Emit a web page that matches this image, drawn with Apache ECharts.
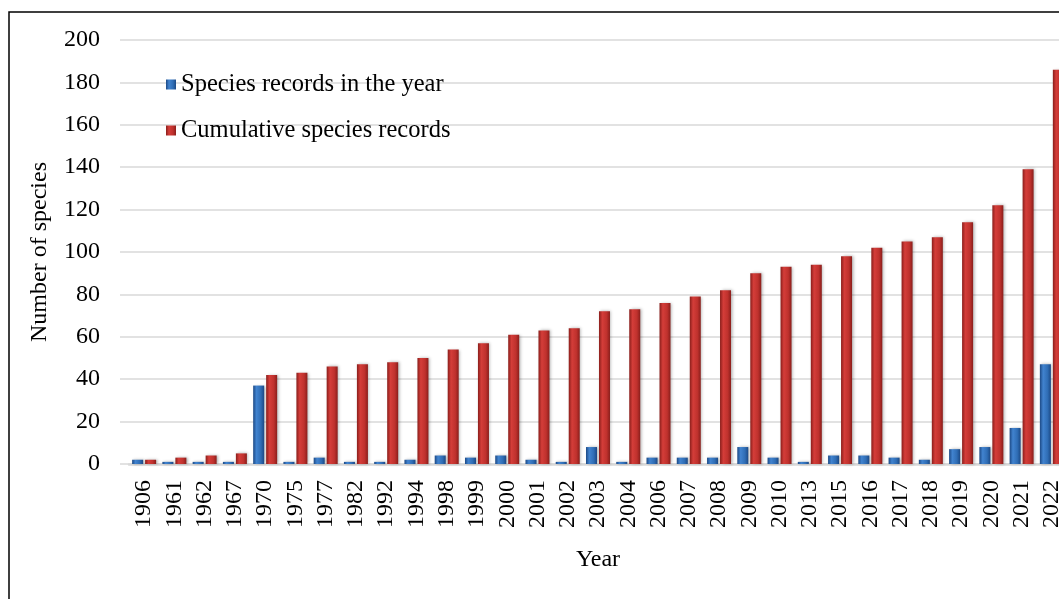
<!DOCTYPE html>
<html>
<head>
<meta charset="utf-8">
<script src="https://cdn.jsdelivr.net/npm/echarts@6/dist/echarts.min.js"></script>
<style>
  html, body { margin: 0; padding: 0; background: #fff; }
  #chart { width: 1059px; height: 599px; }
</style>
</head>
<body>
<div id="chart"></div>
<script>
const years = ['1906', '1961', '1962', '1967', '1970', '1975', '1977', '1982', '1992', '1994',
  '1998', '1999', '2000', '2001', '2002', '2003', '2004', '2006', '2007', '2008',
  '2009', '2010', '2013', '2015', '2016', '2017', '2018', '2019', '2020', '2021', '2022']
const yearRecords = [2, 1, 1, 1, 37, 1, 3, 1, 1, 2,
  4, 3, 4, 2, 1, 8, 1, 3, 3, 3,
  8, 3, 1, 4, 4, 3, 2, 7, 8, 17, 47]
const cumulativeRecords = [2, 3, 4, 5, 42, 43, 46, 47, 48, 50,
  54, 57, 61, 63, 64, 72, 73, 76, 79, 82,
  90, 93, 94, 98, 102, 105, 107, 114, 122, 139, 186]
const yTicks = [0, 20, 40, 60, 80, 100, 120, 140, 160, 180, 200]

const font = 'Liberation Serif, Times New Roman, serif'

// bars look like excel's bevelled columns, so fake it with a side gradient
const barGradient = (edge, light, mid) => new echarts.graphic.LinearGradient(0, 0, 1, 0, [
  { offset: 0, color: edge },
  { offset: 0.3, color: light },
  { offset: 0.7, color: mid },
  { offset: 1, color: edge },
])

const chart = echarts.init(document.getElementById('chart'))

const option = {
  backgroundColor: '#fff',
  animation: false,
  graphic: [{
    type: 'rect',
    shape: { x: 9, y: 12, width: 1200, height: 800 },
    style: { fill: 'none', stroke: '#000', lineWidth: 1.5 },
    z: 100,
  }],
  legend: {
    orient: 'vertical',
    left: 161,
    top: 67,
    itemWidth: 10,
    itemHeight: 10,
    itemGap: 21,
    icon: 'rect',
    textStyle: { fontFamily: font, fontSize: 24.5, color: '#000', lineHeight: 23 },
    data: ['Species records in the year', 'Cumulative species records'],
  },
  grid: {
    left: 129,
    top: 40,
    width: 938,
    height: 424,
    outerBoundsMode: 'none',
  },
  xAxis: {
    type: 'category',
    data: years,
    name: 'Year',
    nameLocation: 'middle',
    nameGap: 84,
    nameTextStyle: { fontFamily: font, fontSize: 24, color: '#000' },
    axisLine: { lineStyle: { color: '#d9d9d9', width: 2.5 } },
    axisTick: { show: false },
    axisLabel: {
      rotate: 90,
      margin: 16,
      fontFamily: font,
      fontSize: 24,
      color: '#000',
      interval: 0,
    },
  },
  yAxis: {
    type: 'value',
    min: yTicks[0],
    max: yTicks[yTicks.length - 1],
    interval: 20,
    name: 'Number of species',
    nameLocation: 'middle',
    nameGap: 77,
    nameTextStyle: { fontFamily: font, fontSize: 24, color: '#000' },
    axisLine: { show: false },
    axisTick: { show: true, length: 9, lineStyle: { color: '#d9d9d9', width: 1.5 } },
    axisLabel: { margin: 29, fontFamily: font, fontSize: 24, color: '#000' },
    splitLine: { lineStyle: { color: '#d9d9d9', width: 1.5 } },
  },
  series: [
    {
      name: 'Species records in the year',
      type: 'bar',
      data: yearRecords,
      barWidth: 11,
      barGap: '18%',
      itemStyle: {
        color: barGradient('#1c4985', '#4183cf', '#2f6db5'),
        shadowColor: 'rgba(0,0,0,0.3)',
        shadowBlur: 3,
        shadowOffsetX: 1.5,
      },
    },
    {
      name: 'Cumulative species records',
      type: 'bar',
      data: cumulativeRecords,
      barWidth: 11,
      itemStyle: {
        color: barGradient('#8a1e1b', '#d43d39', '#bf312d'),
        shadowColor: 'rgba(0,0,0,0.3)',
        shadowBlur: 3,
        shadowOffsetX: 1.5,
      },
    },
  ],
}

chart.setOption(option)
</script>
</body>
</html>
